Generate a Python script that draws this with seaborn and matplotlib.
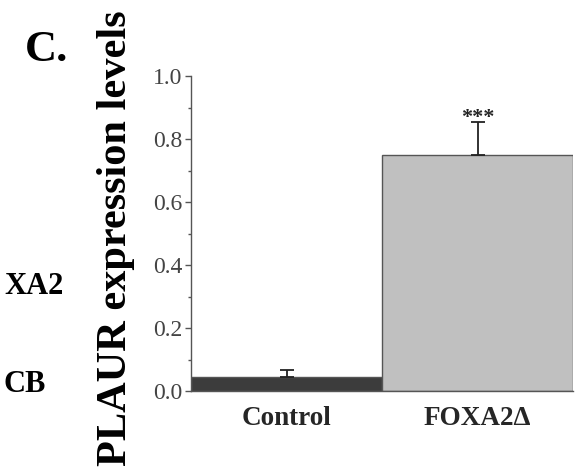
import matplotlib
matplotlib.use("Agg")
import matplotlib.pyplot as plt
import seaborn as sns
import pandas as pd
from matplotlib.ticker import MultipleLocator

groups = ["Control", "FOXA2Δ"]
values = [0.045, 0.749]
errors = [0.022, 0.104]
bar_colors = ["#3c3c3c", "#c0c0c0"]
yticks = [0.0, 0.2, 0.4, 0.6, 0.8, 1.0]

sns.set_theme(style="white")
plt.rcParams['font.family'] = ['Liberation Serif', 'DejaVu Serif']

df = pd.DataFrame({"group": groups, "value": values})

fig = plt.figure(figsize=(5.75, 4.71), dpi=100)
ax = fig.add_axes([191/575, 1 - 391/471, (573 - 191)/575, (391 - 76)/471])

sns.barplot(data=df, x="group", y="value", hue="group", palette=bar_colors,
            width=1.0, errorbar=None, legend=False, ax=ax,
            edgecolor="#555555", linewidth=1.0)

ax.errorbar(range(len(values)), values, yerr=[[0]*len(errors), errors],
            fmt="none", ecolor="#222222", elinewidth=1.3, capsize=5, capthick=1.3)

ax.text(1, values[1] + errors[1] + 0.015, "***", ha="center", va="center",
        fontsize=16, fontweight="bold", color="#222222")

ax.set_xlim(-0.5, 1.5)
ax.set_ylim(0, 1.0)
ax.set_yticks(yticks)
ax.set_yticklabels([f"{t:.1f}" for t in yticks])
ax.yaxis.set_minor_locator(MultipleLocator(0.1))
ax.tick_params(axis="y", which="major", direction="out", length=4, width=1,
               color="#555555", labelsize=17, labelcolor="#444444", left=True, pad=2)
ax.tick_params(axis="y", which="minor", direction="out", length=2.5, width=1,
               color="#555555", left=True)
ax.tick_params(axis="x", which="both", length=0, labelsize=19.5, pad=11)
for lab in ax.get_xticklabels():
    lab.set_fontweight("bold")
ax.set_xlabel("")
ax.set_ylabel("")

for side in ["top", "right"]:
    ax.spines[side].set_visible(False)
for side in ["left", "bottom"]:
    ax.spines[side].set_color("#555555")
    ax.spines[side].set_linewidth(1.0)

fig.text(116/575, 1 - 238/471, "PLAUR expression levels", rotation=90,
         ha="center", va="center", fontsize=30.5, fontweight="bold", color="black")
fig.text(47/575, 1 - 50/471, "C.", ha="center", va="center",
         fontsize=32, fontweight="bold", color="black")
fig.text(64/575, 1 - 286/471, "XA2", ha="right", va="center",
         fontsize=22, fontweight="bold", color="black")
fig.text(46/575, 1 - 385/471, "CB", ha="right", va="center",
         fontsize=22, fontweight="bold", color="black")

fig.savefig("out.png", dpi=100)
